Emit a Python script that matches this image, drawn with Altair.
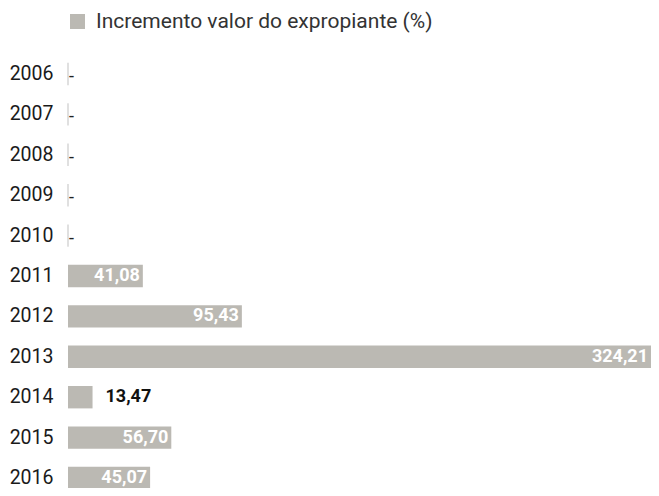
import altair as alt
import pandas as pd

years = ["2006", "2007", "2008", "2009", "2010", "2011",
         "2012", "2013", "2014", "2015", "2016"]
values = [None, None, None, None, None, 41.08, 95.43, 324.21, 13.47, 56.70, 45.07]
labels = ["-", "-", "-", "-", "-", "41,08", "95,43", "324,21", "13,47", "56,70", "45,07"]
series_name = "Incremento valor do expropiante (%)"

df = pd.DataFrame({"year": years, "value": values, "label": labels,
                   "series": [series_name] * len(years)})

FONT = "Roboto"
BAR = "#bbb9b3"
XMAX = 320  # visible part of the value axis (the longest bar runs off the edge)

base = alt.Chart(df).transform_calculate(
    v="isValid(datum.value) ? datum.value : 0",
    vpos="isValid(datum.value) ? min(datum.value, %d) : 0" % XMAX,
)

y_enc = alt.Y("year:N", sort=years,
              scale=alt.Scale(paddingInner=0.4455, paddingOuter=0.2228, range=[0.8, 445.2]),
              axis=alt.Axis(title=None, ticks=False, domain=False, labelPadding=15,
                            labelFont=FONT, labelFontSize=19.5, labelColor="#1a1a1a"))
x_scale = alt.Scale(nice=False, zero=True, domain=[0, XMAX])
x_enc = alt.X("v:Q", axis=None, scale=x_scale)
x_lab = alt.X("vpos:Q", axis=None, scale=x_scale)

bars = base.transform_filter("isValid(datum.value)").mark_bar(clip=True).encode(
    y=y_enc, x=x_enc,
    color=alt.Color("series:N", scale=alt.Scale(range=[BAR]),
                    legend=alt.Legend(orient="none", legendX=-1, legendY=-42, title=None,
                                      symbolType="square", symbolSize=225,
                                      symbolStrokeWidth=0, labelFont=FONT,
                                      labelFontSize=21, labelColor="#333",
                                      labelOffset=8, labelLimit=0, padding=0))
)

ticks = base.transform_filter("!isValid(datum.value)").mark_tick(
    color="#aaaaaa", thickness=1, size=22.4
).encode(y=y_enc, x=x_enc)

inside = base.transform_filter("isValid(datum.value) && datum.v > 20").mark_text(
    align="right", baseline="middle", dx=-3, color="white", fontWeight="bold",
    fontSize=18, font=FONT
).encode(y=y_enc, x=x_lab, text="label:N")

outside = base.transform_filter("isValid(datum.value) && datum.v <= 20").mark_text(
    align="left", baseline="middle", dx=13, color="#111", fontWeight="bold",
    fontSize=18, font=FONT
).encode(y=y_enc, x=x_lab, text="label:N")

dashes = base.transform_filter("!isValid(datum.value)").mark_text(
    align="left", baseline="middle", dx=1, dy=3, color="#222", fontSize=18, font=FONT
).encode(y=y_enc, x=x_lab, text="label:N")

chart = alt.layer(bars, ticks, inside, outside, dashes).properties(
    width=583, height=435,
    autosize=alt.AutoSizeParams(type="none"),
    padding={"left": 60, "top": 45, "right": 0, "bottom": 0},
).configure(font=FONT).configure_view(strokeWidth=0)

chart.save("out.html", embed_options={"renderer": "svg", "actions": False})
